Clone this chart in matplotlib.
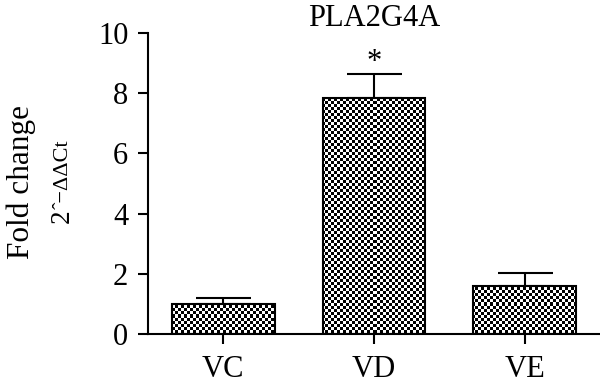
import numpy as np
import matplotlib
matplotlib.use("Agg")
import matplotlib.pyplot as plt

plt.rcParams['font.family'] = ['Liberation Serif', 'DejaVu Serif']

categories = ["VC", "VD", "VE"]
values = [1.0, 7.85, 1.6]
errors = [0.2, 0.78, 0.42]
significance = ["", "*", ""]
title = "PLA2G4A"
yticks = [0, 2, 4, 6, 8, 10]

fig = plt.figure(figsize=(6, 3.89), dpi=100)
ax = fig.add_axes([148/600, 1 - 334/389, 452/600, 301/389])

x = np.arange(len(categories))
bars = ax.bar(x, values, width=0.68, facecolor='none', edgecolor='black',
              linewidth=1.5, zorder=3)
ax.errorbar(x, values, yerr=[np.zeros(len(values)), errors], fmt='none',
            ecolor='black', elinewidth=1.5, capsize=19.8, capthick=1.5, zorder=2)

ax.set_xlim(-0.5, 2.5)
ax.set_ylim(0, 10)

# checkerboard texture clipped to bars
fw, fh = fig.get_size_inches() * fig.dpi
pos = ax.get_position()
wpx = int(round(pos.width * fw))
hpx = int(round(pos.height * fh))
yy, xx = np.indices((hpx, wpx))
checker = ((yy // 3 + xx // 3) % 2).astype(float)
for b in bars:
    im = ax.imshow(checker, cmap='gray', vmin=0, vmax=1, extent=(-0.5, 2.5, 0, 10),
                   aspect='auto', interpolation='nearest', zorder=2.5)
    im.set_clip_path(b)
ax.set_xlim(-0.5, 2.5)
ax.set_ylim(0, 10)

for xi, v, e, s in zip(x, values, errors, significance):
    if s:
        ax.text(xi, v + e + 0.15, s, ha='center', va='baseline', fontsize=22)

ax.spines['top'].set_visible(False)
ax.spines['right'].set_visible(False)
ax.spines['left'].set_linewidth(1.5)
ax.spines['bottom'].set_linewidth(1.5)
ax.set_xticks(x)
ax.set_xticklabels(categories)
ax.set_yticks(yticks)
ax.tick_params(axis='both', direction='out', length=7.2, width=1.5, labelsize=22)
ax.tick_params(axis='y', pad=7)
ax.tick_params(axis='x', pad=8)
ax.set_title(title, fontsize=22, pad=4)

fig.text(21/600, 1 - 182/389, "Fold change", rotation=90, ha='center', va='center',
         fontsize=22.5)

# second y-label line: "2" then smaller "ˆ−ΔΔCt"
t2 = fig.text(68.5/600, 1 - 223/389, "2", rotation=90, rotation_mode='anchor',
              ha='left', va='baseline', fontsize=19.5)
fig.canvas.draw()
r = fig.canvas.get_renderer()
ext = t2.get_window_extent(r)
fig.text(67.5/600, (ext.y1 + 0.5) / fh, "ˆ−ΔΔCt", rotation=90, rotation_mode='anchor',
         ha='left', va='baseline', fontsize=16)

fig.savefig("out.png", dpi=100)
